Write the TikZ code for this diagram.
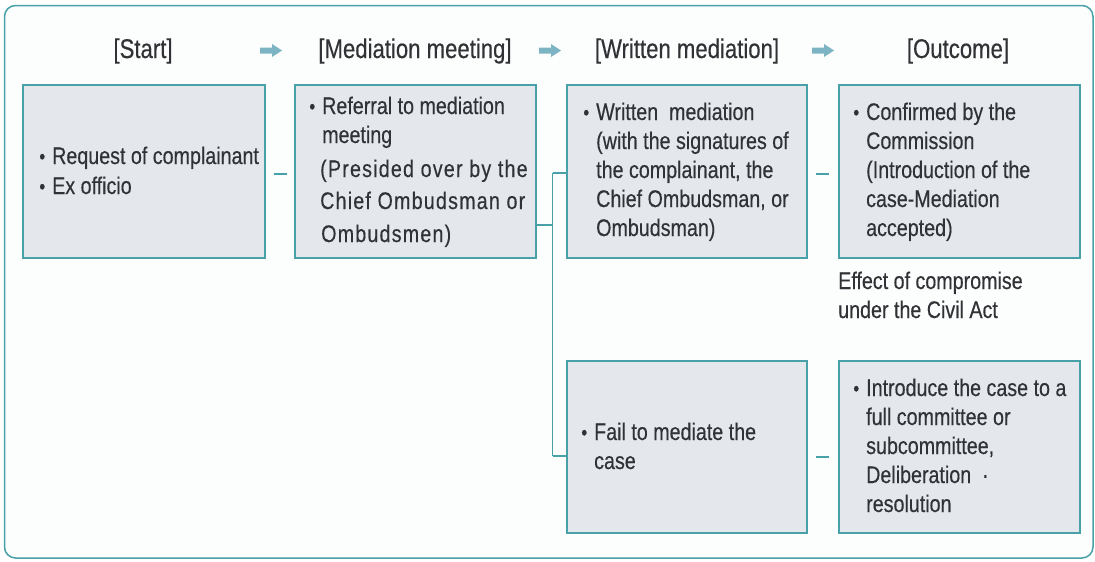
\documentclass[tikz,border=0pt]{standalone}
\usepackage{fontspec}
\setmainfont{Liberation Sans}[FakeStretch=0.82]
\newfontfamily\bodyfam{Liberation Sans}[FakeStretch=0.82, FakeBold=0.35]
\definecolor{teal}{RGB}{72,160,168}
\definecolor{boxfill}{RGB}{228,232,236}
\definecolor{textc}{RGB}{48,50,53}
\definecolor{arrowc}{RGB}{125,180,196}
\definecolor{bgc}{RGB}{252,253,253}
\newcommand\myline[1]{\hbox{#1}}
\newcommand\stack[2][29pt]{\vtop{\baselineskip=#1\relax\lineskiplimit=-50pt #2}}
\newcommand\bul{\llap{\raisebox{0.5pt}{\scalebox{0.85}{•}}\hspace{7pt}}}
\newcommand\spaced{\addfontfeature{LetterSpace=5}}
\newcommand\blockarrow[1]{\fill[arrowc] (#1,47.5) -- (#1+12,47.5) -- (#1+12,44) -- (#1+22,50.5) -- (#1+12,57) -- (#1+12,53.5) -- (#1,53.5) -- cycle;}
\begin{document}
\begin{tikzpicture}[x=1pt,y=-1pt,
  bx/.style={draw=teal, fill=boxfill, line width=1.5pt, anchor=north west, inner sep=0pt, minimum width=242pt, minimum height=173pt},
  txt/.style={anchor=base west, inner sep=0pt, text=textc, font=\bodyfam\fontsize{24}{29}\selectfont},
  head/.style={anchor=base, inner sep=0pt, text=textc, font=\bodyfam\fontsize{27}{30}\selectfont},
  conn/.style={draw=teal, line width=1.5pt}]
\useasboundingbox (0,0) rectangle (1095,562);
\draw[draw=teal, fill=bgc, line width=1.5pt, rounded corners=11pt] (4.5,5.5) rectangle (1093,558);
% headings
\node[head] (h1) at (143,58) {[Start]};
\node[head] (h2) at (415,58) {[Mediation meeting]};
\node[head] (h3) at (687,58) {[Written mediation]};
\node[head] (h4) at (958,58) {[Outcome]};
\blockarrow{260}
\blockarrow{539}
\blockarrow{812}
% boxes
\node[bx] (b1) at (22,84) {};
\node[bx, minimum width=241pt] (b2) at (294,84) {};
\node[bx, minimum width=240pt] (b3) at (566,84) {};
\node[bx, minimum width=241pt] (b4) at (838,84) {};
\node[bx, minimum width=240pt, minimum height=172pt] (b5) at (566,360) {};
\node[bx, minimum width=241pt, minimum height=172pt] (b6) at (838,360) {};
% texts
\node[txt] (t1) at (52,164) {\stack[30pt]{\myline{\bul Request of complainant}\myline{\bul Ex officio}}};
\node[txt] (t2) at (322,114) {\stack{\myline{\bul Referral to mediation}\myline{meeting}\vskip5pt
  \myline{\spaced\hspace{-2pt}(Presided over by the}\vskip3pt\myline{\spaced\hspace{-2pt}Chief Ombudsman or}\vskip4pt\myline{\spaced\hspace{-1pt}Ombudsmen)}}};
\node[txt] (t3) at (596,120) {\stack{\myline{\bul Written\ \ mediation}\myline{(with the signatures of}\myline{the complainant, the}\myline{Chief Ombudsman, or}\myline{Ombudsman)}}};
\node[txt] (t4) at (866,120) {\stack{\myline{\bul Confirmed by the}\myline{Commission}\myline{(Introduction of the}\myline{case-Mediation}\myline{accepted)}}};
\node[txt] (t5) at (838,289) {\stack{\myline{Effect of compromise}\myline{under the Civil Act}}};
\node[txt] (t6) at (594,440) {\stack{\myline{\bul Fail to mediate the}\myline{case}}};
\node[txt] (t7) at (866,396) {\stack{\myline{\bul Introduce the case to a}\myline{full committee or}\myline{subcommittee,}\myline{Deliberation\ \ ·}\myline{resolution}}};
% connectors
\draw[conn, shorten <=8pt, shorten >=7pt] ([yshift=-2.5pt]b1.east) -- ([yshift=-2.5pt]b2.west);
\draw[conn, shorten <=8pt, shorten >=9pt] ([yshift=-2.5pt]b3.east) -- ([yshift=-2.5pt]b4.west);
\draw[conn, shorten <=8pt, shorten >=9pt] ([yshift=-10pt]b5.east) -- ([yshift=-10pt]b6.west);
\coordinate (j) at (552.5,225);
\coordinate (jt) at (552.5,173);
\coordinate (jb) at (552.5,456);
\draw[conn] (j -| b2.east) -- (j);
\draw[conn] (jt) -- (jb);
\draw[conn] (jt) -- (jt -| b3.west);
\draw[conn] (jb) -- (jb -| b5.west);
\end{tikzpicture}
\end{document}
